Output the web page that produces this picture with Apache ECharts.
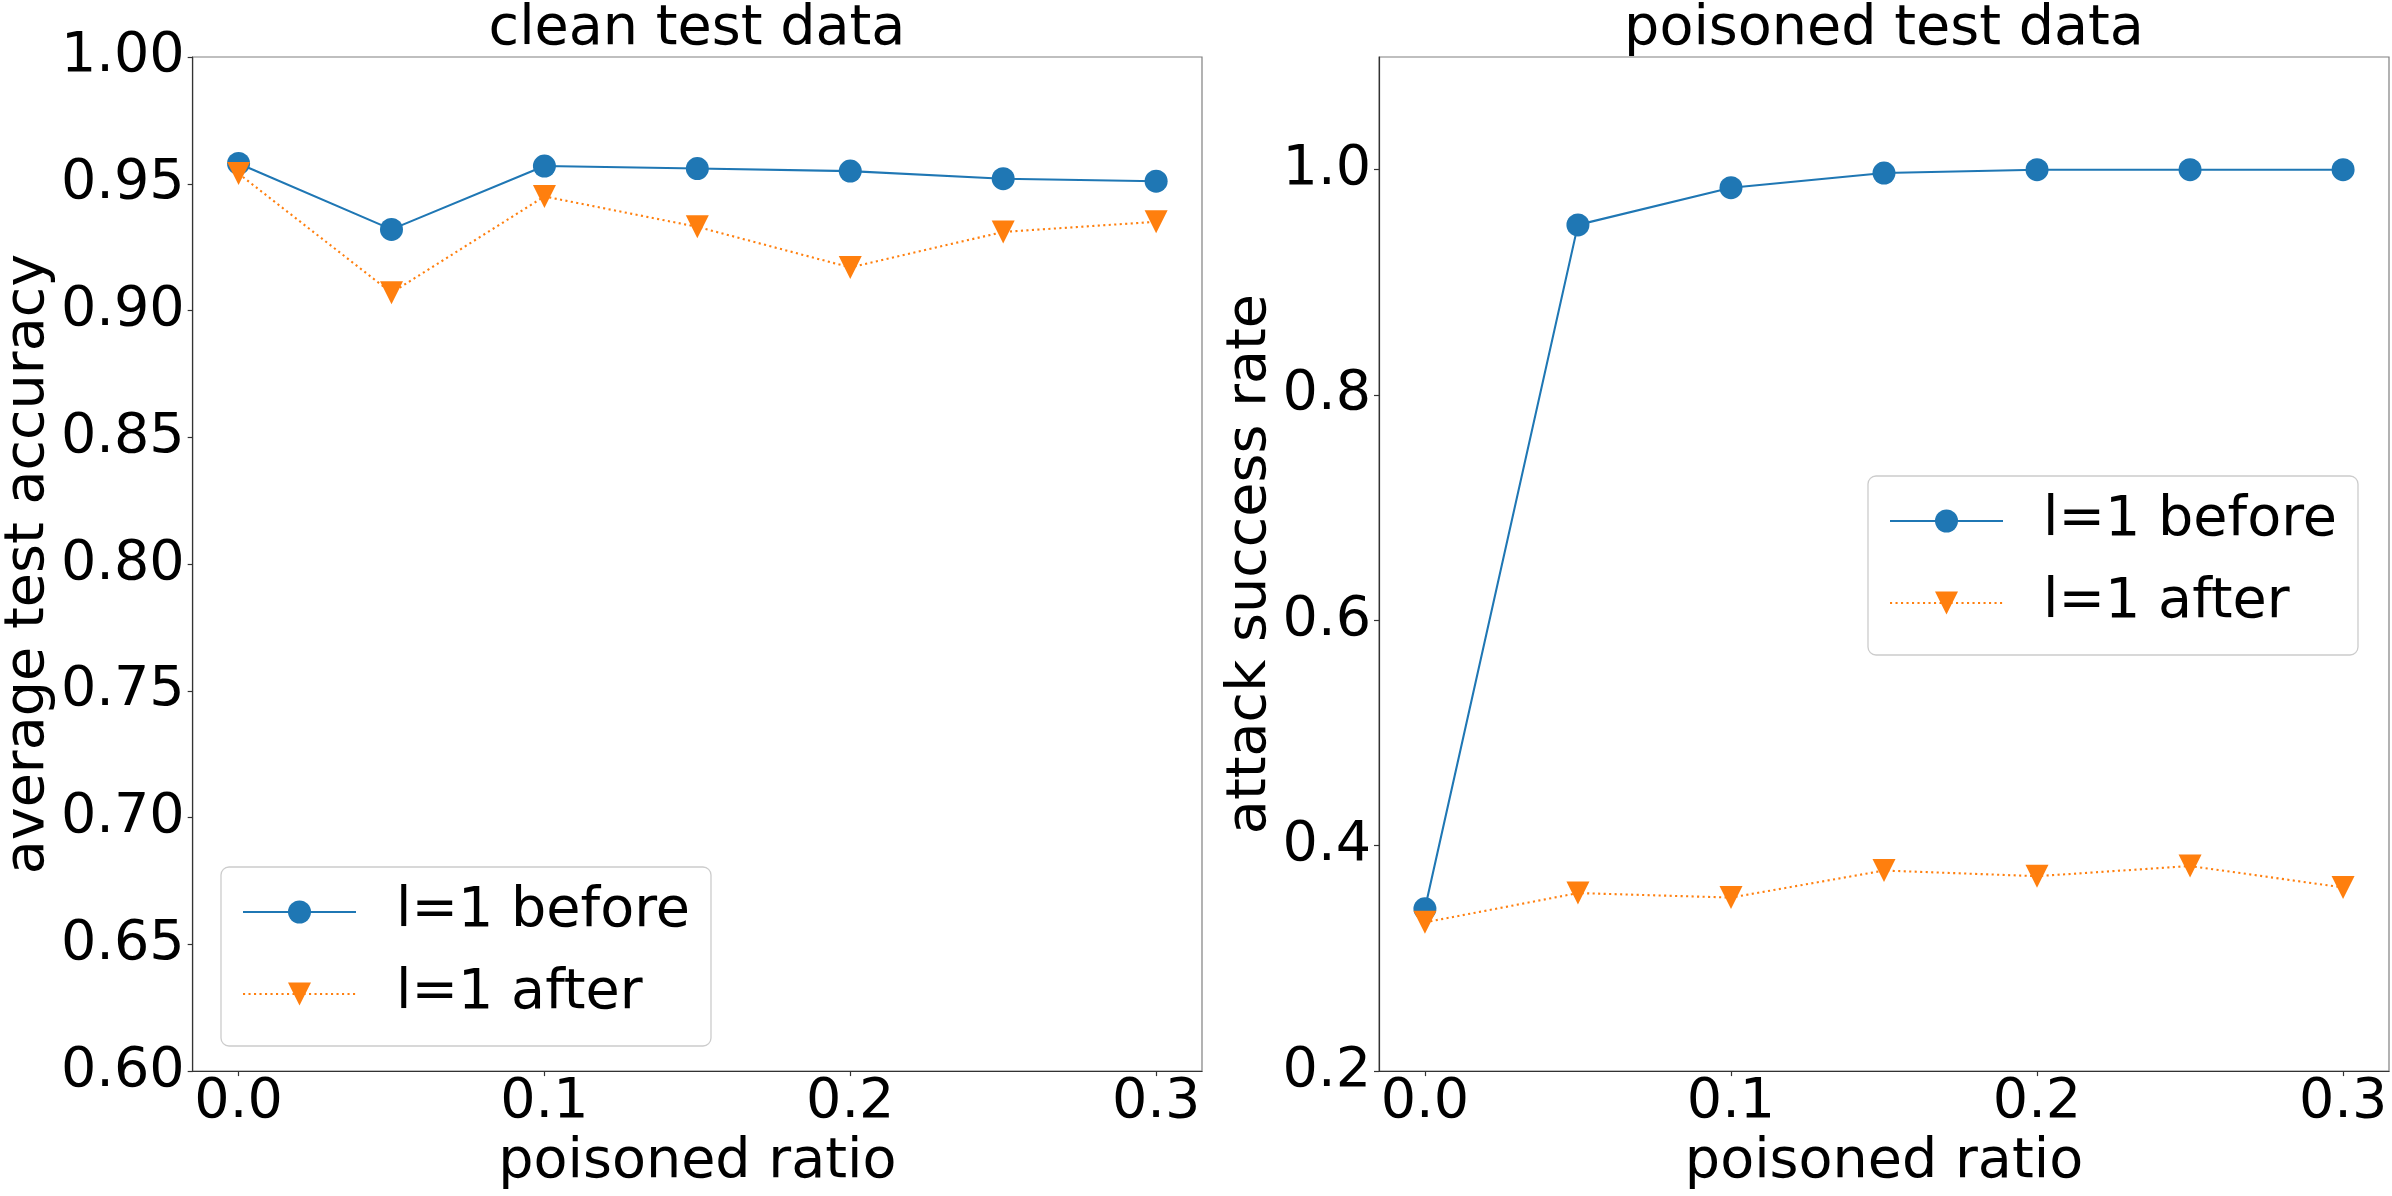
<!DOCTYPE html>
<html>
<head>
<meta charset="utf-8">
<script src="https://cdn.jsdelivr.net/npm/echarts@6/dist/echarts.min.js"></script>
<style>
  html, body { margin: 0; padding: 0; background: #ffffff; }
  #chart { width: 2392px; height: 1196px; }
</style>
</head>
<body>
<div id="chart"></div>
<script>
// ---- data ----
const ratios = [0, 0.05, 0.1, 0.15, 0.2, 0.25, 0.3];
const xTicks = [0, 0.1, 0.2, 0.3];
const cleanTicks = [0.6, 0.65, 0.7, 0.75, 0.8, 0.85, 0.9, 0.95, 1.0];
const poisonTicks = [0.2, 0.4, 0.6, 0.8, 1.0];
const cleanBefore = [0.958, 0.932, 0.957, 0.956, 0.955, 0.952, 0.951];
const cleanAfter = [0.954, 0.907, 0.945, 0.933, 0.917, 0.931, 0.935];
const poisonBefore = [0.344, 0.951, 0.984, 0.997, 1.0, 1.0, 1.0];
const poisonAfter = [0.332, 0.358, 0.354, 0.378, 0.373, 0.382, 0.363];
const nameBefore = 'l=1 before';
const nameAfter = 'l=1 after';
const panelTitles = ['clean test data', 'poisoned test data'];
const xName = 'poisoned ratio';
const yNames = ['average test accuracy', 'attack success rate'];

const FONT = 'DejaVu Sans';
const FS = 55.6;
const BLUE = '#1f77b4';
const ORANGE = '#ff7f0e';

const pairs = (ys) => ratios.map((x, i) => [x, ys[i]]);

const G = [
  { left: 192, top: 57, width: 1010, height: 1017 },
  { left: 1379, top: 57, width: 1010, height: 1017 }
];

function xAxisFor(idx) {
  return {
    type: 'value', gridIndex: idx, min: -0.015, max: 0.315,
    name: xName, nameLocation: 'middle', nameGap: 63,
    nameTextStyle: { fontFamily: FONT, fontSize: FS, color: '#000', lineHeight: 56 },
    axisLine: { show: true, onZero: false, lineStyle: { color: '#333', width: 1.2 } },
    axisTick: { show: true, length: 5, customValues: xTicks, lineStyle: { color: '#333', width: 1.2 } },
    axisLabel: { customValues: xTicks, margin: 3, fontFamily: FONT, fontSize: FS, color: '#000', lineHeight: 56,
      formatter: v => v.toFixed(1) },
    splitLine: { show: false }
  };
}
function yAxisFor(idx, min, max, ticks, dec, gap) {
  return {
    type: 'value', gridIndex: idx, min: min, max: max,
    name: yNames[idx], nameLocation: 'middle', nameGap: gap,
    nameTextStyle: { fontFamily: FONT, fontSize: FS, color: '#000', lineHeight: 56 },
    axisLine: { show: true, onZero: false, lineStyle: { color: '#333', width: 1.2 } },
    axisTick: { show: true, length: 5, customValues: ticks, lineStyle: { color: '#333', width: 1.2 } },
    axisLabel: { customValues: ticks, margin: 8, fontFamily: FONT, fontSize: FS, color: '#000',
      formatter: v => v.toFixed(dec) },
    splitLine: { show: false }
  };
}
function seriesFor(idx, name, ys, isAfter) {
  return {
    type: 'line', name: name, xAxisIndex: idx, yAxisIndex: idx,
    data: pairs(ys),
    symbol: isAfter ? 'triangle' : 'circle',
    symbolRotate: isAfter ? 180 : 0,
    symbolSize: 23,
    showAllSymbol: true,
    lineStyle: { color: isAfter ? ORANGE : BLUE, width: 2.1, type: isAfter ? [2.1, 3.4] : 'solid' },
    itemStyle: { color: isAfter ? ORANGE : BLUE, borderWidth: 0 },
    emphasis: { disabled: true },
    animation: false
  };
}
function legendFor(left, top) {
  return {
    orient: 'vertical', left: left, top: top,
    data: [nameBefore, nameAfter],
    itemWidth: 113, itemHeight: 28.75, itemGap: 22,
    padding: [15, 21, 22, 21],
    backgroundColor: 'rgba(255,255,255,0.8)',
    borderColor: '#cccccc', borderWidth: 1.3, borderRadius: 8,
    selectedMode: false,
    textStyle: { fontFamily: FONT, fontSize: FS, color: '#000', lineHeight: 60, padding: [0, 0, 0, 35] }
  };
}

const option = {
  animation: false,
  backgroundColor: '#ffffff',
  grid: G.map(g => Object.assign({ show: true, borderColor: '#808080', borderWidth: 1.2, backgroundColor: 'transparent', containLabel: false }, g)),
  xAxis: [xAxisFor(0), xAxisFor(1)],
  yAxis: [
    yAxisFor(0, 0.6, 1.0, cleanTicks, 2, 132),
    yAxisFor(1, 0.2, 1.1, poisonTicks, 1, 97)
  ],
  legend: [legendFor(221, 867), legendFor(1868, 476)],
  graphic: panelTitles.map((t, i) => ({
    type: 'text', x: G[i].left + G[i].width / 2, y: 30,
    style: { text: t, fontFamily: FONT, fontSize: FS, fill: '#000', align: 'center', verticalAlign: 'middle' }
  })),
  series: [
    seriesFor(0, nameBefore, cleanBefore, false),
    seriesFor(0, nameAfter, cleanAfter, true),
    seriesFor(1, nameBefore, poisonBefore, false),
    seriesFor(1, nameAfter, poisonAfter, true)
  ]
};

const chart = echarts.init(document.getElementById('chart'), null, { renderer: 'canvas' });
chart.setOption(option);
</script>
</body>
</html>
